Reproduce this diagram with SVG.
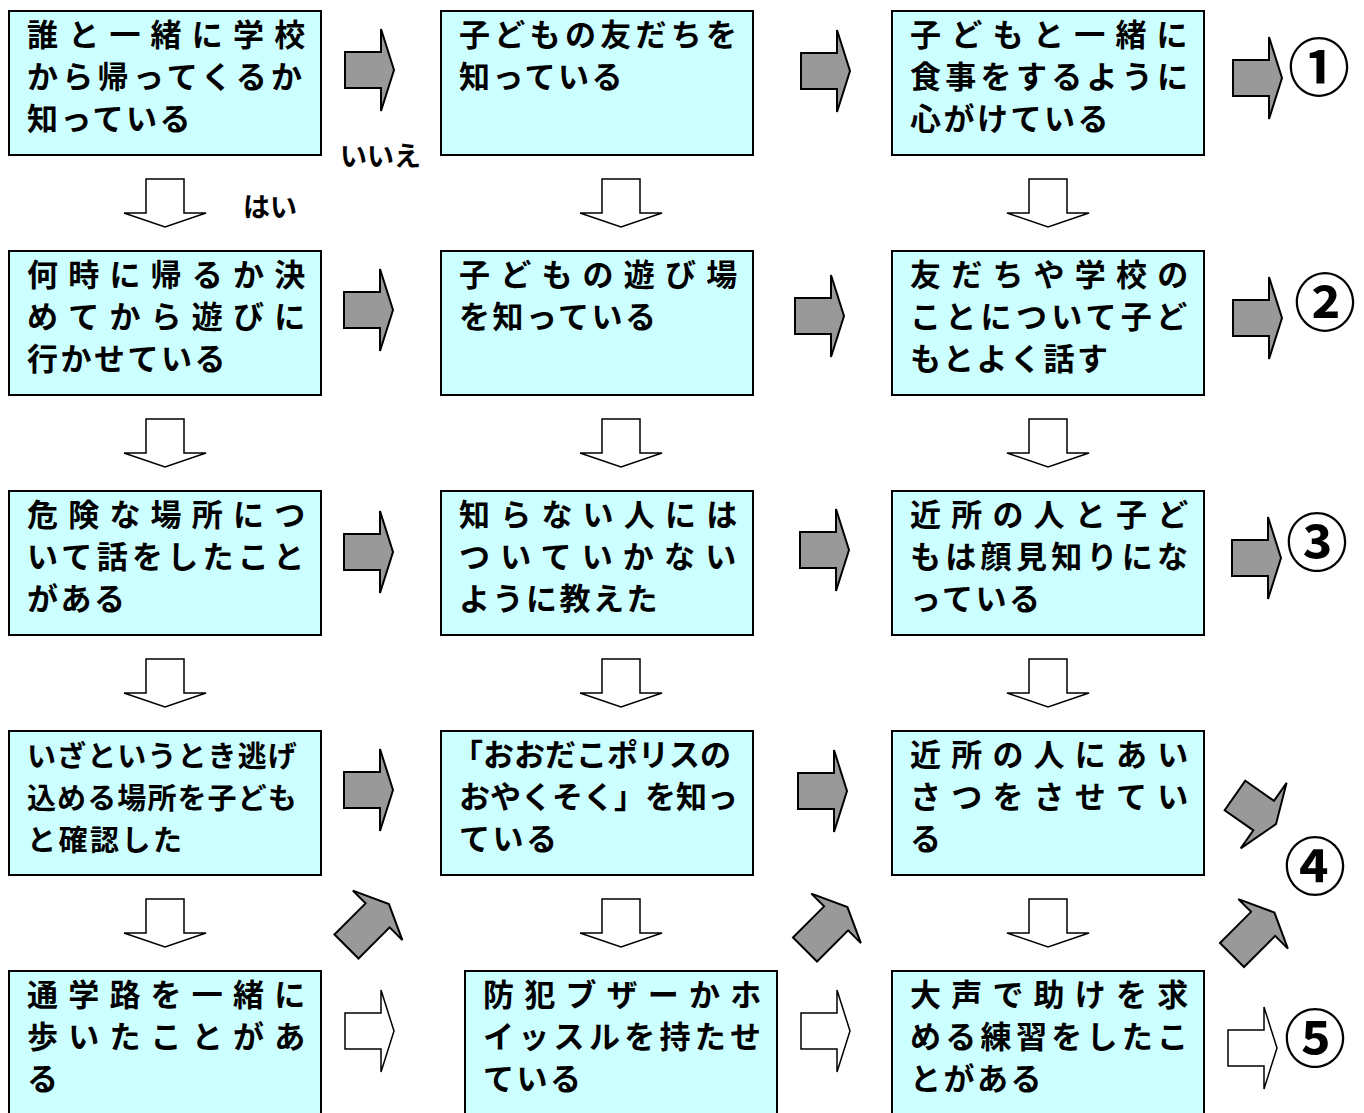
<svg xmlns="http://www.w3.org/2000/svg" width="1364" height="1113" viewBox="0 0 1364 1113">
<style>
.box rect{fill:#CCFFFF;stroke:#000;stroke-width:2}
.t{font-family:"Noto Sans CJK JP","Noto Sans CJK SC",sans-serif;font-weight:700;font-size:31px;fill:#000}
.s{font-size:29px}
.j7{letter-spacing:10.2px}
.j8{letter-spacing:4.3px}
.j9{letter-spacing:0px}
.j9s{letter-spacing:1.1px}
.n{letter-spacing:2.5px}
.lbl{font-family:"Noto Sans CJK JP","Noto Sans CJK SC",sans-serif;font-weight:700;font-size:27px;fill:#000}
.num{font-family:"Noto Sans CJK JP","Noto Sans CJK SC",sans-serif;font-weight:700;font-size:62px;fill:#000;text-anchor:middle}
.ga{fill:#999999;stroke:#000;stroke-width:2}
.wa{fill:#FFFFFF;stroke:#000;stroke-width:1.5}
</style>
<defs>
<polygon id="ar" points="0,-18 36,-18 36,-41 49,0 36,41 36,18 0,18"/>
<polygon id="ad" points="-19,0 19,0 19,34 41,34 0,48 -41,34 -19,34"/>
<polygon id="ag" points="0,-17 44,-17 44,-35 60,0 44,35 44,17 0,17"/>
<polygon id="ag2" points="0,-18 35,-18 35,-40 50,0 35,40 35,18 0,18"/>
</defs>

<g id="connectors">
<use href="#ar" class="ga" transform="translate(345,70)"/>
<use href="#ar" class="ga" transform="translate(801,71)"/>
<use href="#ar" class="ga" transform="translate(1233,78)"/>
<use href="#ar" class="ga" transform="translate(344,310)"/>
<use href="#ar" class="ga" transform="translate(795,316)"/>
<use href="#ar" class="ga" transform="translate(1233,318)"/>
<use href="#ar" class="ga" transform="translate(344,552)"/>
<use href="#ar" class="ga" transform="translate(800,550)"/>
<use href="#ar" class="ga" transform="translate(1232,558)"/>
<use href="#ar" class="ga" transform="translate(344,790)"/>
<use href="#ar" class="ga" transform="translate(798,791)"/>
<use href="#ar" class="wa" transform="translate(345,1031)"/>
<use href="#ar" class="wa" transform="translate(801,1031)"/>
<use href="#ar" class="wa" transform="translate(1228,1048)"/>
<use href="#ad" class="wa" transform="translate(165,179)"/>
<use href="#ad" class="wa" transform="translate(165,419)"/>
<use href="#ad" class="wa" transform="translate(165,659)"/>
<use href="#ad" class="wa" transform="translate(165,899)"/>
<use href="#ad" class="wa" transform="translate(621,179)"/>
<use href="#ad" class="wa" transform="translate(621,419)"/>
<use href="#ad" class="wa" transform="translate(621,659)"/>
<use href="#ad" class="wa" transform="translate(621,899)"/>
<use href="#ad" class="wa" transform="translate(1048,179)"/>
<use href="#ad" class="wa" transform="translate(1048,419)"/>
<use href="#ad" class="wa" transform="translate(1048,659)"/>
<use href="#ad" class="wa" transform="translate(1048,899)"/>
<use href="#ag" class="ga" transform="translate(346.5,946.5) rotate(-45)"/>
<use href="#ag" class="ga" transform="translate(805,949.5) rotate(-45)"/>
<use href="#ag" class="ga" transform="translate(1232,955) rotate(-45)"/>
<use href="#ag2" class="ga" transform="translate(1235,795.5) rotate(35)"/>
<text class="lbl" x="340" y="166">いいえ</text>
<text class="lbl" x="243" y="217">はい</text>
</g>

<g id="n11" class="box"><rect x="9" y="11" width="312" height="144"/>
<text class="t j7" x="27" y="46">誰と一緒に学校</text>
<text class="t j8" x="27" y="88">から帰ってくるか</text>
<text class="t n" x="27" y="130">知っている</text></g>

<g id="n12" class="box"><rect x="441" y="11" width="312" height="144"/>
<text class="t j8" x="459" y="46">子どもの友だちを</text>
<text class="t n" x="459" y="88">知っている</text></g>

<g id="n13" class="box"><rect x="892" y="11" width="312" height="144"/>
<text class="t j7" x="910" y="46">子どもと一緒に</text>
<text class="t j8" x="910" y="88">食事をするように</text>
<text class="t n" x="910" y="130">心がけている</text></g>

<g id="n21" class="box"><rect x="9" y="251" width="312" height="144"/>
<text class="t j7" x="27" y="286">何時に帰るか決</text>
<text class="t j7" x="27" y="328">めてから遊びに</text>
<text class="t n" x="27" y="370">行かせている</text></g>

<g id="n22" class="box"><rect x="441" y="251" width="312" height="144"/>
<text class="t j7" x="459" y="286">子どもの遊び場</text>
<text class="t n" x="459" y="328">を知っている</text></g>

<g id="n23" class="box"><rect x="892" y="251" width="312" height="144"/>
<text class="t j7" x="910" y="286">友だちや学校の</text>
<text class="t j8" x="910" y="328">ことについて子ど</text>
<text class="t n" x="910" y="370">もとよく話す</text></g>

<g id="n31" class="box"><rect x="9" y="491" width="312" height="144"/>
<text class="t j7" x="27" y="526">危険な場所につ</text>
<text class="t j8" x="27" y="568">いて話をしたこと</text>
<text class="t n" x="27" y="610">がある</text></g>

<g id="n32" class="box"><rect x="441" y="491" width="312" height="144"/>
<text class="t j7" x="459" y="526">知らない人には</text>
<text class="t j7" x="459" y="568">ついていかない</text>
<text class="t n" x="459" y="610">ように教えた</text></g>

<g id="n33" class="box"><rect x="892" y="491" width="312" height="144"/>
<text class="t j7" x="910" y="526">近所の人と子ど</text>
<text class="t j8" x="910" y="568">もは顔見知りにな</text>
<text class="t n" x="910" y="610">っている</text></g>

<g id="n41" class="box"><rect x="9" y="731" width="312" height="144"/>
<text class="t s j9s" x="27" y="767">いざというとき逃げ</text>
<text class="t s j9s" x="27" y="809">込める場所を子ども</text>
<text class="t s n" x="27" y="851">と確認した</text></g>

<g id="n42" class="box"><rect x="441" y="731" width="312" height="144"/>
<text class="t j9" x="452" y="766">「おおだこポリスの</text>
<text class="t j9" x="459" y="808">おやくそく」を知っ</text>
<text class="t n" x="459" y="850">ている</text></g>

<g id="n43" class="box"><rect x="892" y="731" width="312" height="144"/>
<text class="t j7" x="910" y="766">近所の人にあい</text>
<text class="t j7" x="910" y="808">さつをさせてい</text>
<text class="t n" x="910" y="850">る</text></g>

<g id="n51" class="box"><rect x="9" y="971" width="312" height="160"/>
<text class="t j7" x="27" y="1006">通学路を一緒に</text>
<text class="t j7" x="27" y="1048">歩いたことがあ</text>
<text class="t n" x="27" y="1090">る</text></g>

<g id="n52" class="box"><rect x="465" y="971" width="312" height="160"/>
<text class="t j7" x="483" y="1006">防犯ブザーかホ</text>
<text class="t j8" x="483" y="1048">イッスルを持たせ</text>
<text class="t n" x="483" y="1090">ている</text></g>

<g id="n53" class="box"><rect x="892" y="971" width="312" height="160"/>
<text class="t j7" x="910" y="1006">大声で助けを求</text>
<text class="t j8" x="910" y="1048">める練習をしたこ</text>
<text class="t n" x="910" y="1090">とがある</text></g>

<g id="results">
<text class="num" x="1319" y="91">①</text>
<text class="num" x="1325" y="326">②</text>
<text class="num" x="1317" y="566">③</text>
<text class="num" x="1315" y="890">④</text>
<text class="num" x="1315" y="1062">⑤</text>
</g>
</svg>
